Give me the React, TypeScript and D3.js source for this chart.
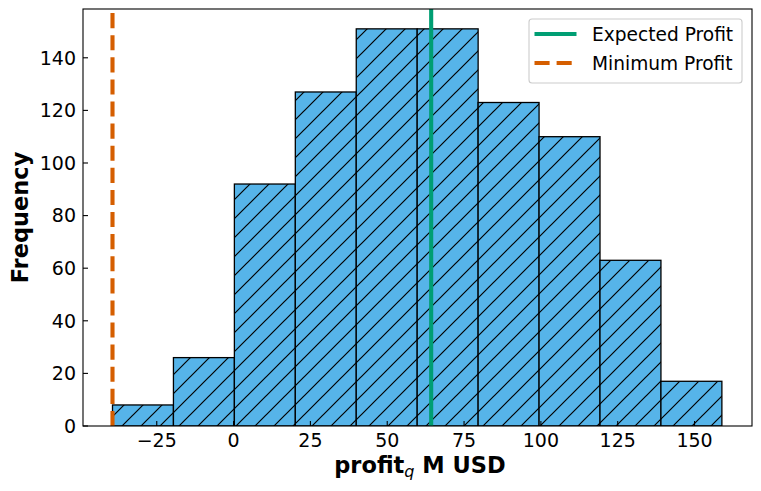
import React, { useEffect } from "react";
import * as d3 from "d3";

// histogram of simulated profit (M USD)
const binEdges = [-39.4, -19.57, 0.26, 20.09, 39.92, 59.75, 79.58, 99.41, 119.24, 139.07, 158.9];
const counts = [8, 26, 92, 127, 151, 151, 123, 110, 63, 17];
const expectedProfit = 64.3;
const minimumProfit = -39.4;
const xTicks = [-25, 0, 25, 50, 75, 100, 125, 150];
const yTicks = [0, 20, 40, 60, 80, 100, 120, 140];
const legendItems = [
  { label: "Expected Profit", color: "#009E73", dash: "" },
  { label: "Minimum Profit", color: "#D55E00", dash: "15.1,7" },
];

const W = 761;
const H = 491;
const plot = { left: 83, right: 752, top: 9, bottom: 426 };
const font = "DejaVu Sans, sans-serif";

export default function App() {
  useEffect(() => {
    document.body.style.margin = "0";
  }, []);

  const x = d3.scaleLinear().domain([-49.0, 168.7]).range([plot.left, plot.right]);
  const y = d3.scaleLinear().domain([0, 158.55]).range([plot.bottom, plot.top]);

  const bins = counts.map((c, i) => ({ x0: binEdges[i], x1: binEdges[i + 1], count: c }));
  const fmt = (v: number) => (v < 0 ? "\u2212" + Math.abs(v) : String(v));
  const hs = 19; // hatch spacing

  return (
    <svg width={W} height={H} style={{ display: "block" }} fontFamily={font}>
      <defs>
        <pattern id="hatch" patternUnits="userSpaceOnUse" width={hs} height={hs} y={H % hs}>
          <rect width={hs} height={hs} fill="#56B4E9" />
          <path
            d={`M0,${hs} L${hs},0 M${-hs / 4},${hs / 4} L${hs / 4},${-hs / 4} M${(hs * 3) / 4},${(hs * 5) / 4} L${(hs * 5) / 4},${(hs * 3) / 4}`}
            stroke="#000"
            strokeWidth={1.2}
          />
        </pattern>
        <clipPath id="plotClip">
          <rect x={plot.left} y={plot.top} width={plot.right - plot.left} height={plot.bottom - plot.top} />
        </clipPath>
      </defs>

      <rect width={W} height={H} fill="#fff" />

      {/* bars */}
      <g clipPath="url(#plotClip)">
        {bins.map((b, i) => (
          <rect
            key={i}
            x={x(b.x0)}
            y={y(b.count)}
            width={x(b.x1) - x(b.x0)}
            height={y(0) - y(b.count)}
            fill="url(#hatch)"
            stroke="#000"
            strokeWidth={1.3}
          />
        ))}
        <line
          x1={x(expectedProfit)}
          x2={x(expectedProfit)}
          y1={plot.bottom}
          y2={plot.top}
          stroke="#009E73"
          strokeWidth={4.1}
        />
        <line
          x1={x(minimumProfit)}
          x2={x(minimumProfit)}
          y1={plot.bottom}
          y2={plot.top}
          stroke="#D55E00"
          strokeWidth={4.1}
          strokeDasharray="15.1,7"
        />
      </g>

      {/* ticks, pointing inward */}
      {xTicks.map((t) => (
        <g key={"x" + t}>
          <line x1={x(t)} x2={x(t)} y1={plot.bottom} y2={plot.bottom - 5} stroke="#000" strokeWidth={1.1} />
          <text x={x(t)} y={447} fontSize={19} textAnchor="middle" fill="#000">
            {fmt(t)}
          </text>
        </g>
      ))}
      {yTicks.map((t) => (
        <g key={"y" + t}>
          <line x1={plot.left} x2={plot.left + 5} y1={y(t)} y2={y(t)} stroke="#000" strokeWidth={1.1} />
          <text x={76} y={y(t) + 6.9} fontSize={19} textAnchor="end" fill="#000">
            {t}
          </text>
        </g>
      ))}

      {/* spines */}
      <rect
        x={plot.left}
        y={plot.top}
        width={plot.right - plot.left}
        height={plot.bottom - plot.top}
        fill="none"
        stroke="#000"
        strokeWidth={1.1}
      />

      {/* axis labels */}
      <text x={420} y={473} fontSize={22.5} fontWeight="bold" textAnchor="middle" fill="#000">
        profit
        <tspan fontSize={16} fontStyle="italic" fontWeight="normal" dy={4}>
          q
        </tspan>
        <tspan dy={-4}> M USD</tspan>
      </text>
      <text
        transform={`translate(28,${(plot.top + plot.bottom) / 2}) rotate(-90)`}
        fontSize={22.5}
        fontWeight="bold"
        textAnchor="middle"
        fill="#000"
      >
        Frequency
      </text>

      {/* legend */}
      <g>
        <rect x={529} y={19} width={213} height={64} rx={3} fill="#fff" fillOpacity={0.8} stroke="#cccccc" strokeWidth={1.1} />
        {legendItems.map((d, i) => {
          const cy = 34 + i * 29;
          return (
            <g key={d.label}>
              <line
                x1={534.5}
                x2={576.5}
                y1={cy}
                y2={cy}
                stroke={d.color}
                strokeWidth={4.1}
                strokeDasharray={d.dash || undefined}
              />
              <text x={592} y={cy + 6.7} fontSize={18.6} fill="#000">
                {d.label}
              </text>
            </g>
          );
        })}
      </g>
    </svg>
  );
}
